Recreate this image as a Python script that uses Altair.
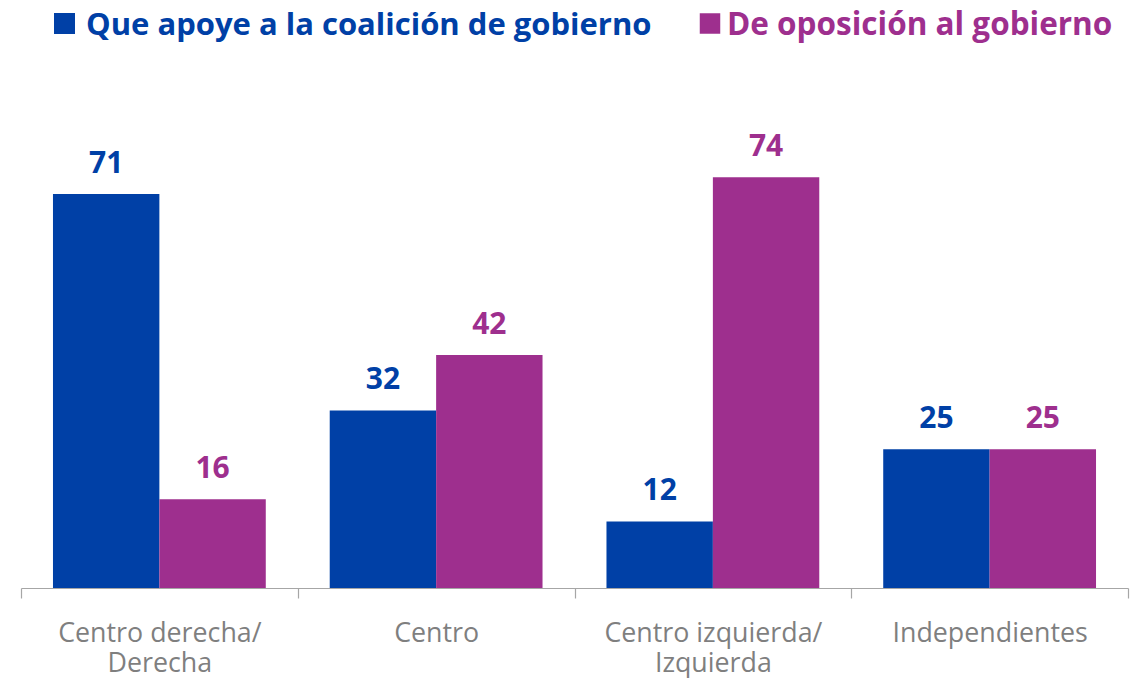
import altair as alt
import pandas as pd

categories = ["Centro derecha/ Derecha", "Centro", "Centro izquierda/ Izquierda", "Independientes"]
series = ["Que apoye a la coalición de gobierno", "De oposición al gobierno"]
apoyo = [71, 32, 12, 25]
oposicion = [16, 42, 74, 25]
colors = ["#0040A6", "#9E2F8E"]

rows = []
for i, c in enumerate(categories):
    rows.append({"cat": c, "serie": series[0], "valor": apoyo[i]})
    rows.append({"cat": c, "serie": series[1], "valor": oposicion[i]})
df = pd.DataFrame(rows)

label_expr = ("length(split(datum.value, '/ ')) > 1 ? "
              "[split(datum.value, '/ ')[0] + '/', split(datum.value, '/ ')[1]] : datum.value")

x = alt.X(
    "cat:N", sort=categories,
    scale=alt.Scale(paddingInner=0, paddingOuter=0),
    axis=alt.Axis(title=None, tickBand="extent", domainColor="#A6A6A6", tickColor="#A6A6A6",
                  tickSize=10, domainWidth=1.2, tickWidth=1.2, labelAngle=0, labelFont="Open Sans",
                  labelFontSize=26.8, labelColor="#7F7F7F", labelPadding=22, labelLineHeight=30,
                  labelLimit=400, labelExpr=label_expr),
)
y = alt.Y("valor:Q", scale=alt.Scale(domain=[0, 102.7], nice=False, zero=True), axis=None)
color = alt.Color("serie:N", scale=alt.Scale(domain=series, range=colors), legend=None)
xoff = alt.XOffset("serie:N", sort=series,
                   scale=alt.Scale(domain=series, paddingInner=0, paddingOuter=0.3005))

base = alt.Chart(df)
bars = base.mark_bar().encode(x=x, y=y, color=color, xOffset=xoff)
labels = base.mark_text(dy=-21, baseline="alphabetic", font="Open Sans", fontSize=30,
                        fontWeight="bold").encode(x=x, y=y, color=color, xOffset=xoff,
                                                  text=alt.Text("valor:Q"))

leg_df = pd.DataFrame({"serie": series})
sq1 = alt.Chart(leg_df.iloc[[0]]).mark_square(size=441, opacity=1).encode(
    x=alt.value(43.5), y=alt.value(5.5), color=alt.value(colors[0]))
tx1 = alt.Chart(leg_df.iloc[[0]]).mark_text(align="left", baseline="alphabetic", font="Open Sans",
                                            fontSize=31, fontWeight="bold").encode(
    x=alt.value(65), y=alt.value(17), text="serie:N", color=alt.value(colors[0]))
sq2 = alt.Chart(leg_df.iloc[[1]]).mark_square(size=420, opacity=1).encode(
    x=alt.value(689), y=alt.value(5.5), color=alt.value(colors[1]))
tx2 = alt.Chart(leg_df.iloc[[1]]).mark_text(align="left", baseline="alphabetic", font="Open Sans",
                                            fontSize=31.5, fontWeight="bold").encode(
    x=alt.value(706), y=alt.value(17), text="serie:N", color=alt.value(colors[1]))

chart = alt.layer(bars, labels, sq1, tx1, sq2, tx2).properties(
    width=1107, height=570,
    padding={"left": 13, "top": 10, "right": 4, "bottom": 90},
    autosize=alt.AutoSizeParams(type="none"),
    background="white",
).configure_view(stroke=None)

chart.save("out.html", embed_options={"renderer": "svg", "actions": False})
